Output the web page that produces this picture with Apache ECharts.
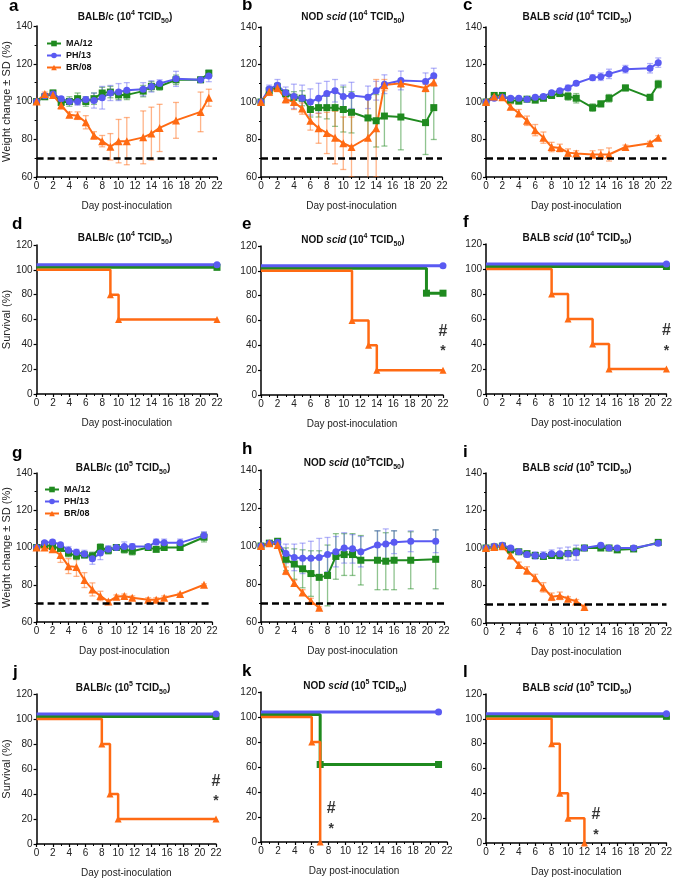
<!DOCTYPE html>
<html><head><meta charset="utf-8">
<script src="https://cdn.jsdelivr.net/npm/echarts@6/dist/echarts.min.js"></script>
<style>html,body{margin:0;padding:0;background:#fff}#c{width:675px;height:881px}</style>
</head><body><div id="c"></div>
<script>
// ---------- DATA ----------
const daysW1 = [0,1,2,3,4,5,6,7,8,9,10,11,13,14,15,17,20,21];
const daysW3 = [0,1,2,3,4,5,6,7,8,9,10,11,12,14,15,16,18,21];

// Panel a: BALB/c 10^4
const aMA   = [100,102.5,104.5,99.5,100,101.5,100,101.5,104.5,105,103.5,103.5,105.5,108,108,111.5,111.5,115];
const aMAsd = [0,1,1.5,1,2.5,3,2.5,3,3,3,2.5,2.5,3,2.5,2,2.5,1,1.5];
const aPH   = [100,103,104,101.5,100,100,101,100.5,102,104.5,105,106,106.5,108,109.5,112,111.5,113.5];
const aPHsd = [0,1,1,1,1,2,1.5,4,6,4,4.5,4,3.5,3,2,4,1.5,3];
const aBR   = [100,104,103.5,98,93,92.5,89,82,79,76,79,79,81,83,86,90,94.5,102];
const aBRsd = [0,1,1,2,1.5,2,3.5,2,3,7,11.5,12.5,14,14,12.5,9.5,10.5,4.5];
// Panel b: NOD scid 10^4
const bMA   = [100,106,108,104.5,102.5,102,96,97,97,97,96,94.5,91.5,90,92.5,92,89,97];
const bMAsd = [0,2,2,2,3,4,4,5,6,10,12,11,12,14,16,17.5,17,17];
const bPH   = [100,107,109,105,103,102,100,102,104.5,106,103,103.5,102.5,106,109.5,111.5,111,114];
const bPHsd = [0,2,3,3,6.5,7,7,8,6.5,6,6,7,6,5,5,5,4.5,4];
const bBR   = [100,105.5,107.5,101.5,100,96.5,90,86,83.5,81,78,76,81,86,109,110,107.5,110.5];
const bBRsd = [0,2,2,2,4,3,5,8,11,14,14,16,22,26,3,2,2,2];
// Panel c: BALB scid 10^4
const cMA   = [100,103.5,103.5,101,100.5,101.5,101,102,103.5,104.5,103,102,97,99,102,107.5,102.5,109.5];
const cMAsd = [0,1,1,1,1.5,1,1,1,1.5,1.5,2,2.5,2,1.5,2,1.5,1.5,2];
const cPH   = [100,102,102.5,102,102,101.5,102.5,103,105,106,107.5,110,113,113.5,115,117.5,118,121];
const cPHsd = [0,1,1,1,1,1,1,1,1,1,1.5,1,1.5,2,2.5,2,2.5,2.5];
const cBR   = [100,103,102.5,97.5,94,90,85,81,76,75.5,73,72.5,72,72,72,76,78,81];
const cBRsd = [0,1,1,1.5,2,2.5,3,3,2.5,2,2,1.5,2,2.5,3.5,1,1,1];
// Panel g: BALB/c 10^5
const gMA   = [100,101.5,100.5,99.5,97,95.5,96,95.5,100,98.5,100,99,98,100,99,100,100,105.5];
const gMAsd = [0,1,1,1,2,2,1.5,2,2,2,1.5,2,2,1,1,1,1.5,2.5];
const gPH   = [100,102.5,103,101.5,98.5,97.5,96.5,94,97,99,100,100.5,100.5,100.5,103,102.5,102.5,106.5];
const gPHsd = [0,1,1,1,2,1.5,2,3,3.5,2,1.5,2.5,1.5,1,1.5,2,2,2];
const gBR   = [100,100,99,96,90,89.5,82.5,77.5,74,71,73.5,74,73,72,72,73,75,80];
const gBRsd = [0,1,1,4,4,5,4,3.5,2.5,1,1,1,1,1,1,1,0.5,0.5];
// Panel h: NOD scid 10^5
const hMA   = [100,101.5,102.5,93,90.5,88,85.5,83.5,84.5,94.5,95.5,95.5,92.5,92.5,92,92.5,92.5,93];
const hMAsd = [0,1,1,6,8,10,12,14,16,12,11,11,13,15.5,15,15.5,15,15.5];
const hPH   = [100,101.5,102,96,94,93.5,93.5,94,95.5,97,99,98.5,97,100.5,101,102,102.5,102.5];
const hPHsd = [0,1,1,5,7,8,9,10,9,8,8,7.5,8,7.5,8,6,5.5,6];
const hBR   = [100,101.5,100.5,87,80.5,75.5,71,67.5];
const hBRsd = [0,1,1,2,1.5,1.5,1.5,0.5];
// Panel i: BALB scid 10^5
const iMA   = [100,100.5,101,99,98,97,96,95.5,96,96,97,98,100,100,100,99,99.5,103];
const iMAsd = [0,1,1,1,1,1,1.5,1.5,1.5,1.5,1.5,2,1,1,1,1,1,1];
const iPH   = [100,101,101.5,100,98,96.5,96,96,97,97,97,97.5,100,101.5,100,100,100,102.5];
const iPHsd = [0,1,1,1,1,1.5,2,2,2,3,3.5,4,1,1,1,1,1,1];
const iBR   = [100,100.5,101,96,91,88,84,79,74,74.5,73,71.5,68.5];
const iBRsd = [0,1,1,1.5,1.5,2,2,2.5,2,2,1,1,0.5];

// Survival (values as drawn, PH/13 and MA/12 offset by the original plot)
const dPHdays = [0,22], dPH = [104,104];
const dMAdays = [0,22], dMA = [102,102];
const dBRdays = [0,9,10,22], dBR = [100,80,60,60];
const ePHdays = [0,22], ePH = [104,104];
const eMAdays = [0,20,22], eMA = [102,82,82];
const eBRdays = [0,11,13,14,22], eBR = [100,60,40,20,20];
const fPHdays = [0,22], fPH = [104,104];
const fMAdays = [0,22], fMA = [102,102];
const fBRdays = [0,8,10,13,15,22], fBR = [100,80,60,40,20,20];
const jPHdays = [0,22], jPH = [104,104];
const jMAdays = [0,22], jMA = [102,102];
const jBRdays = [0,8,9,10,22], jBR = [100,80,40,20,20];
const kPHdays = [0,21], kPH = [104,104];
const kMAdays = [0,7,21], kMA = [102,62,62];
const kBRdays = [0,6,7], kBR = [100,80,0];
const lPHdays = [0,22], lPH = [104,104];
const lMAdays = [0,22], lMA = [102,102];
const lBRdays = [0,8,9,10,12], lBR = [100,80,40,20,0];

// Significance marks: [day, y of '#', y of '*']
const eSig = [22, 51, 38];
const fSig = [22, 50.5, 37];
const jSig = [22, 50, 36.5];
const kSig = [8.3, 26.5, 12.5];
const lSig = [13.4, 22.5, 8.5];

const weightTicks = [60, 140, 20];
const survTicks = [0, 120, 20];
const dayTicks = [0, 22, 2];

// ---------- STYLE ----------
const FONT = '"Liberation Sans", Arial, Helvetica, sans-serif';
const C  = {MA:'#1f8a1f', PH:'#5a5af2', BR:'#ff6a13'};
const CL = {MA:'rgba(31,138,31,0.5)', PH:'rgba(90,90,242,0.45)', BR:'rgba(255,106,19,0.5)'};
const SYM = {MA:'rect', PH:'circle', BR:'triangle'};
const NAMES = {MA:'MA/12', PH:'PH/13', BR:'BR/08'};
const KEYS = ['MA','PH','BR'];

const grids = [], xAxes = [], yAxes = [], series = [], graphics = [];

function axisPair(gi, ticks, yName, yMinor) {
  xAxes.push({
    gridIndex: gi, type: 'value', min: dayTicks[0], max: dayTicks[1], interval: dayTicks[2],
    name: 'Day post-inoculation', nameLocation: 'middle', nameGap: 24,
    nameTextStyle: {fontFamily: FONT, fontSize: 10, color: '#222'},
    axisLine: {show: true, onZero: false, lineStyle: {color: '#000', width: 1.5}},
    axisTick: {show: true, length: 3, lineStyle: {color: '#000', width: 1.2}},
    minorTick: {show: true, splitNumber: 2, length: 2, lineStyle: {color: '#000', width: 1}},
    splitLine: {show: false},
    axisLabel: {fontFamily: FONT, fontSize: 10, color: '#222', margin: 4}
  });
  yAxes.push({
    gridIndex: gi, type: 'value', min: ticks[0], max: ticks[1], interval: ticks[2],
    name: yName || '', nameLocation: 'middle', nameGap: 21,
    nameTextStyle: {fontFamily: FONT, fontSize: 11, color: '#222'},
    axisLine: {show: true, onZero: false, lineStyle: {color: '#000', width: 1.5}},
    axisTick: {show: true, length: 3, lineStyle: {color: '#000', width: 1.2}},
    minorTick: {show: !!yMinor, splitNumber: 2, length: 2, lineStyle: {color: '#000', width: 1}},
    splitLine: {show: false},
    axisLabel: {fontFamily: FONT, fontSize: 10, color: '#222', margin: 4}
  });
}

function errRender(color) {
  return function (params, api) {
    const x = api.value(0), lo = api.value(1), hi = api.value(2);
    if (!(hi - lo > 0)) return null;
    const p1 = api.coord([x, lo]), p2 = api.coord([x, hi]);
    const hw = 3, st = {stroke: color, lineWidth: 1.3};
    return {type: 'group', children: [
      {type: 'line', shape: {x1: p1[0], y1: p1[1], x2: p2[0], y2: p2[1]}, style: st},
      {type: 'line', shape: {x1: p1[0]-hw, y1: p1[1], x2: p1[0]+hw, y2: p1[1]}, style: st},
      {type: 'line', shape: {x1: p2[0]-hw, y1: p2[1], x2: p2[0]+hw, y2: p2[1]}, style: st}
    ]};
  };
}

function titleRich(strain, italic, exp, sp) {
  let s = '{b|' + strain + '}';
  if (italic) s += '{i|' + italic + '}';
  s += '{b| (10}{sup|' + exp + '}{b|' + (sp ? ' ' : '') + 'TCID}{sub|50}{b|)}';
  return s;
}
const richT = {
  b:   {fontFamily: FONT, fontSize: 10, fontWeight: 'bold', fill: '#111', color: '#111', lineHeight: 15},
  i:   {fontFamily: FONT, fontSize: 10, fontWeight: 'bold', fontStyle: 'italic', fill: '#111', color: '#111', lineHeight: 15},
  sup: {fontFamily: FONT, fontSize: 7, fontWeight: 'bold', fill: '#111', color: '#111', verticalAlign: 'top', lineHeight: 15},
  sub: {fontFamily: FONT, fontSize: 7, fontWeight: 'bold', fill: '#111', color: '#111', verticalAlign: 'bottom', lineHeight: 15}
};

function addTitle(cx, cy, txt) {
  graphics.push({type: 'text', x: cx, y: cy, silent: true,
    style: {text: txt, rich: richT, align: 'center', verticalAlign: 'middle'}});
}
function addLetter(x, y, ch) {
  graphics.push({type: 'text', x: x, y: y, silent: true,
    style: {text: ch, font: 'bold 17px ' + FONT, fill: '#000', verticalAlign: 'middle'}});
}

function weightPanel(p) {
  const gi = grids.length;
  grids.push({left: p.box[0], top: p.box[1], width: p.box[2], height: p.box[3], containLabel: false});
  axisPair(gi, weightTicks, p.yName, true);
  KEYS.forEach(function (k) {
    const vals = p[k][0], sd = p[k][1];
    const days = p.days.slice(0, vals.length);
    series.push({type: 'custom', name: NAMES[k] + ' SD', xAxisIndex: gi, yAxisIndex: gi, clip: true, z: 2,
      renderItem: errRender(CL[k]), silent: true, animation: false,
      encode: {x: 0, y: [1, 2]},
      data: days.map(function (d, i) { return [d, vals[i] - sd[i], vals[i] + sd[i]]; })});
  });
  KEYS.forEach(function (k) {
    const vals = p[k][0];
    const days = p.days.slice(0, vals.length);
    const s = {type: 'line', name: NAMES[k], xAxisIndex: gi, yAxisIndex: gi, z: 3, animation: false,
      data: days.map(function (d, i) { return [d, vals[i]]; }),
      symbol: SYM[k], symbolSize: k === 'BR' ? 8 : 7, showAllSymbol: true,
      lineStyle: {color: C[k], width: 2}, itemStyle: {color: C[k]}};
    if (k === 'BR') {
      s.markLine = {silent: true, symbol: 'none', animation: false, label: {show: false},
        lineStyle: {color: '#000', type: [7, 4], width: 2.5}, data: [{yAxis: 70}]};
    }
    series.push(s);
  });
  addTitle(p.title[0], p.title[1], p.title[2]);
  addLetter(p.letter[0], p.letter[1], p.letter[2]);
}

function survPanel(p) {
  const gi = grids.length;
  grids.push({left: p.box[0], top: p.box[1], width: p.box[2], height: p.box[3], containLabel: false});
  axisPair(gi, survTicks, p.yName, false);
  KEYS.forEach(function (k) {
    const days = p[k][0], vals = p[k][1];
    series.push({type: 'line', name: NAMES[k], xAxisIndex: gi, yAxisIndex: gi, step: 'end', z: k === 'BR' ? 4 : 3,
      animation: false, symbolSize: 7, showAllSymbol: true,
      data: days.map(function (d, i) { return {value: [d, vals[i]], symbol: i === 0 ? 'none' : SYM[k]}; }),
      lineStyle: {color: C[k], width: k === 'BR' ? 2.5 : 3}, itemStyle: {color: C[k]}});
  });
  if (p.sig) {
    series.push({type: 'scatter', name: 'sig', xAxisIndex: gi, yAxisIndex: gi, symbolSize: 0, silent: true,
      animation: false, z: 5,
      data: [
        {value: [p.sig[0], p.sig[1]], name: '#', label: {fontSize: 16}},
        {value: [p.sig[0], p.sig[2]], name: '*', label: {fontSize: 14, offset: [0, 3]}}
      ],
      label: {show: true, position: 'inside', formatter: '{b}', color: '#000', fontWeight: 'bold', fontFamily: FONT}});
  }
  addTitle(p.title[0], p.title[1], p.title[2]);
  addLetter(p.letter[0], p.letter[1], p.letter[2]);
}

// ---------- PANELS ----------
weightPanel({box: [33, 26, 184, 151], days: daysW1, MA: [aMA, aMAsd], PH: [aPH, aPHsd], BR: [aBR, aBRsd],
  yName: 'Weight change ± SD (%)', title: [125, 17, titleRich('BALB/c', '', '4', true)], letter: [9, 6, 'a']});
weightPanel({box: [261, 27, 181, 150], days: daysW1, MA: [bMA, bMAsd], PH: [bPH, bPHsd], BR: [bBR, bBRsd],
  title: [353, 17, titleRich('NOD ', 'scid', '4', true)], letter: [242, 5, 'b']});
weightPanel({box: [486, 27, 182, 150], days: daysW1, MA: [cMA, cMAsd], PH: [cPH, cPHsd], BR: [cBR, cBRsd],
  title: [577, 17, titleRich('BALB ', 'scid', '4', true)], letter: [463, 5, 'c']});

survPanel({box: [34, 245, 183, 149], MA: [dMAdays, dMA], PH: [dPHdays, dPH], BR: [dBRdays, dBR],
  yName: 'Survival (%)', title: [125, 238, titleRich('BALB/c', '', '4', true)], letter: [12, 224, 'd']});
survPanel({box: [261, 246, 182, 149], MA: [eMAdays, eMA], PH: [ePHdays, ePH], BR: [eBRdays, eBR], sig: eSig,
  title: [353, 240, titleRich('NOD ', 'scid', '4', true)], letter: [242, 224, 'e']});
survPanel({box: [486, 244, 183, 150], MA: [fMAdays, fMA], PH: [fPHdays, fPH], BR: [fBRdays, fBR], sig: fSig,
  title: [577, 238, titleRich('BALB ', 'scid', '4', true)], letter: [463, 222, 'f']});

weightPanel({box: [32, 473, 180, 149], days: daysW3, MA: [gMA, gMAsd], PH: [gPH, gPHsd], BR: [gBR, gBRsd],
  yName: 'Weight change ± SD (%)', title: [123, 468, titleRich('BALB/c', '', '5', true)], letter: [12, 453, 'g']});
weightPanel({box: [261, 470, 183, 152], days: daysW3, MA: [hMA, hMAsd], PH: [hPH, hPHsd], BR: [hBR, hBRsd],
  title: [354, 463, titleRich('NOD ', 'scid', '5', false)], letter: [242, 449, 'h']});
weightPanel({box: [486, 473, 183, 150], days: daysW3, MA: [iMA, iMAsd], PH: [iPH, iPHsd], BR: [iBR, iBRsd],
  title: [577, 468, titleRich('BALB ', 'scid', '5', true)], letter: [463, 452, 'i']});

survPanel({box: [33, 694, 183, 150], MA: [jMAdays, jMA], PH: [jPHdays, jPH], BR: [jBRdays, jBR], sig: jSig,
  yName: 'Survival (%)', title: [123, 688, titleRich('BALB/c', '', '5', true)], letter: [13, 672, 'j']});
survPanel({box: [261, 692, 186, 150], MA: [kMAdays, kMA], PH: [kPHdays, kPH], BR: [kBRdays, kBR], sig: kSig,
  title: [355, 686, titleRich('NOD ', 'scid', '5', true)], letter: [242, 671, 'k']});
survPanel({box: [486, 694, 183, 149], MA: [lMAdays, lMA], PH: [lPHdays, lPH], BR: [lBRdays, lBR], sig: lSig,
  title: [577, 688, titleRich('BALB ', 'scid', '5', true)], letter: [463, 672, 'l']});

const legendBase = {orient: 'vertical', itemWidth: 14, itemHeight: 7, itemGap: 3, selectedMode: false,
  textStyle: {fontFamily: FONT, fontSize: 9, fontWeight: 'bold', color: '#111'},
  data: ['MA/12', 'PH/13', 'BR/08']};

const option = {
  backgroundColor: '#fff',
  animation: false,
  grid: grids, xAxis: xAxes, yAxis: yAxes, series: series,
  legend: [Object.assign({left: 41, top: 34}, legendBase), Object.assign({left: 39, top: 480}, legendBase)],
  graphic: graphics
};
const chart = echarts.init(document.getElementById('c'), null, {renderer: 'canvas'});
chart.setOption(option);
</script></body></html>
